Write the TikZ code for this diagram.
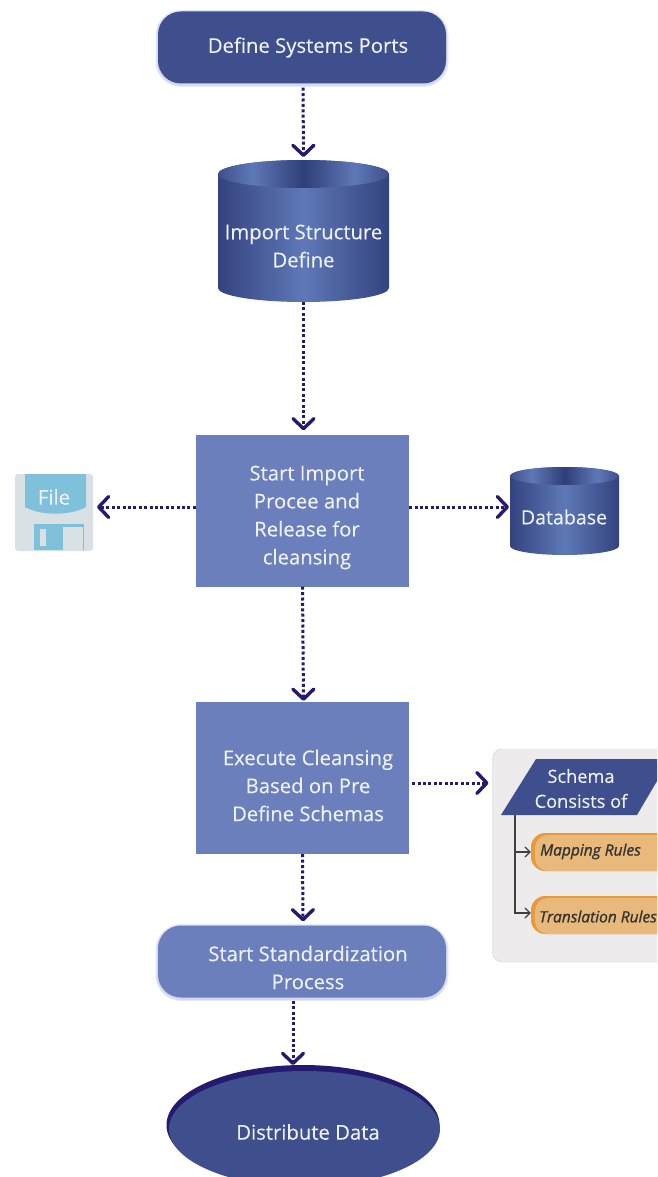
\documentclass[tikz,border=0pt]{standalone}
\usepackage{fontspec}
\setmainfont{Open Sans}[UprightFeatures={FakeBold=0.2},ItalicFeatures={FakeBold=1.1}]
\usetikzlibrary{arrows.meta,calc}
\definecolor{navyfill}{HTML}{3F4F8D}
\definecolor{midfill}{HTML}{6A7FBC}
\definecolor{arrowc}{HTML}{241A70}
\definecolor{txt}{HTML}{EEF1F7}
\definecolor{glowc}{HTML}{C9CDE8}
\definecolor{panelc}{HTML}{EEEBEC}
\definecolor{pillout}{HTML}{E7993C}
\definecolor{pillin}{HTML}{E9B97C}
\definecolor{filegray}{HTML}{D9E1E4}
\definecolor{fileblue}{HTML}{7FC0DB}
\definecolor{cylE}{HTML}{34437F}
\definecolor{cylM}{HTML}{5E78B7}
\definecolor{cylD}{HTML}{2F3E78}
\pgfdeclarehorizontalshading{cylbody}{100bp}{color(0bp)=(cylE);color(25bp)=(cylE);color(50bp)=(cylM);color(75bp)=(cylE);color(100bp)=(cylE)}
\pgfdeclarehorizontalshading{cyltop}{100bp}{color(0bp)=(cylE);color(25bp)=(navyfill);color(35bp)=(cylM);color(50bp)=(cylD);color(65bp)=(cylM);color(75bp)=(navyfill);color(100bp)=(cylE)}
\newcommand{\cylshape}[5]{% cx, rx, ytop, ybot, ry
  \shade[shading=cylbody] (#1-#2,#3+#5) -- (#1-#2,#4-#5)
     arc[start angle=180,end angle=360,x radius=#2,y radius=-#5]
     -- (#1+#2,#3+#5) arc[start angle=0,end angle=180,x radius=#2,y radius=-#5] -- cycle;
  \shade[shading=cyltop] (#1,#3+#5) ellipse[x radius=#2,y radius=#5];
}
\tikzset{
  x=1pt,y=-1pt,
  basetext/.style={text=txt,font=\fontsize{20.3}{28}\selectfont,align=center,inner sep=0pt},
  glow/.style={preaction={draw=glowc!45,line width=5pt,transform canvas={yshift=-1pt}},preaction={draw=glowc!80,line width=2.5pt,transform canvas={yshift=-1pt}}},
  darkpill/.style={basetext,fill=navyfill,rounded corners=23pt,glow,minimum width=288pt,minimum height=72pt},
  midpill/.style={basetext,fill=midfill,rounded corners=23pt,glow,minimum width=288pt,minimum height=72pt},
  procbox/.style={basetext,fill=midfill,minimum width=213pt,minimum height=152pt},
  anchorbox/.style={inner sep=0pt,outer sep=0pt},
  label/.style={basetext},
  flow/.style={draw=arrowc,line width=3pt,dash pattern=on 3pt off 2.4pt,
     -{Straight Barb[length=10pt,width=21pt,line width=3.4pt,round]}},
  branch/.style={draw=black!75,line width=1.3pt,-{Straight Barb[length=5pt,width=10pt,line width=1.2pt]}},
  rulepill/.style={fill=pillout,rounded corners=14pt,minimum width=139pt,minimum height=38pt,inner sep=0pt,
     path picture={\fill[pillin,rounded corners=13pt]
        ($(path picture bounding box.north west)+(4,2)$) rectangle
        (path picture bounding box.south east);}},
  ruletext/.style={anchor=west,inner sep=0pt,text=black!80,font=\fontsize{15.5}{16}\selectfont\itshape},
}
\begin{document}
\begin{tikzpicture}
\useasboundingbox (0,0) rectangle (657,1177);
\clip (0,0) rectangle (657,1177);

% top
\node[darkpill] (ports) at (302,47.5) {};
\node[label] (portstext) at (308,47.5) {Define Systems Ports};

% cylinder 1
\cylshape{303.5}{85.5}{160}{302}{14}
\node[anchorbox,minimum width=171pt,minimum height=142pt] (cyla) at (303.5,231) {};
\node[label] (cylatext) at (303.5,246) {Import Structure\\Define};

% process 1
\node[procbox] (start) at (302.5,510.5) {};
\node[label] (starttext) at (307,517.5) {Start Import\\Procee and\\Release for\\cleansing};

% file icon
\fill[filegray,rounded corners=3pt] (15,474) rectangle (93,551);
\fill[fileblue] (25,474) -- (86,474) -- (86,507) .. controls (70,516) and (41,516) .. (25,507) -- cycle;
\fill[fileblue] (34,524) rectangle (84,550);
\fill[filegray] (40,529) rectangle (46,546);
\fill[filegray] (63,527) rectangle (83,550);
\node[anchorbox,minimum width=78pt,minimum height=77pt] (filei) at (54,512.5) {};
\node[label] (filetext) at (54,497) {File};

% database
\cylshape{564.5}{54.5}{467}{555}{9}
\node[anchorbox,minimum width=109pt,minimum height=88pt] (db) at (564.5,511) {};
\node[label,font=\fontsize{19.6}{28}\selectfont] (dbtext) at (564,517) {Database};

% process 2
\node[procbox] (exec) at (302.5,778) {};
\node[label] (exectext) at (308,785.5) {Execute Cleansing\\Based on Pre\\Define Schemas};

% schema panel
\node[anchorbox,draw=black!20,fill=panelc,rounded corners=10pt,minimum width=190pt,minimum height=213pt] (panel) at (587.5,855.5) {};
\fill[navyfill] (536,759) -- (670,759) -- (637,815) -- (501,815) -- cycle;
\node[anchorbox,minimum width=156pt,minimum height=56pt] (schema) at (579,787) {};
\node[label,font=\fontsize{18.2}{25}\selectfont] (schematext) at (581,788.5) {Schema\\Consists of};
\node[rulepill] (map) at (600.5,852) {};
\node[rulepill] (trans) at (600.5,915) {};
\node[ruletext] (maptext) at (540,851.5) {Mapping Rules};
\node[ruletext] (transtext) at (539,916.5) {Translation Rules};
\draw[branch] ([xshift=14pt]schema.south west) |- (map.west);
\draw[branch] ([xshift=14pt]schema.south west) |- ([yshift=2pt]trans.west);

% standardization
\node[midpill] (std) at (302,961.5) {};
\node[label] (stdtext) at (308,967.5) {Start Standardization\\Process};

% distribute
\fill[arrowc] (303,1125) ellipse[x radius=136.5,y radius=60];
\fill[navyfill] (304.5,1129) ellipse[x radius=135.5,y radius=58];
\node[anchorbox,minimum width=273pt,minimum height=120pt] (dist) at (303,1125) {};
\node[label] (disttext) at (308,1132) {Distribute Data};

% flows
\draw[flow] ([xshift=1pt,yshift=-4pt]ports.south) -- ([yshift=3pt]cyla.north);
\draw[flow] (cyla.south) -- ([xshift=1pt,yshift=4pt]start.north);
\draw[flow] (start.south) -- ([xshift=1pt,yshift=1pt]exec.north);
\draw[flow] (exec.south) -- ([xshift=1pt,yshift=4pt]std.north);
\draw[flow] ([xshift=-9pt,yshift=-3pt]std.south) -- ([xshift=-10pt]dist.north);
\draw[flow] ([yshift=3.5pt]start.west) -- ([xshift=4pt,yshift=5.5pt]filei.east);
\draw[flow] ([yshift=3.5pt]start.east) -- ([xshift=-1pt,yshift=4pt]db.west);
\draw[flow] ([xshift=3pt,yshift=-5pt]exec.east) -- ([xshift=-4pt,yshift=72.5pt]panel.west);
\end{tikzpicture}
\end{document}
